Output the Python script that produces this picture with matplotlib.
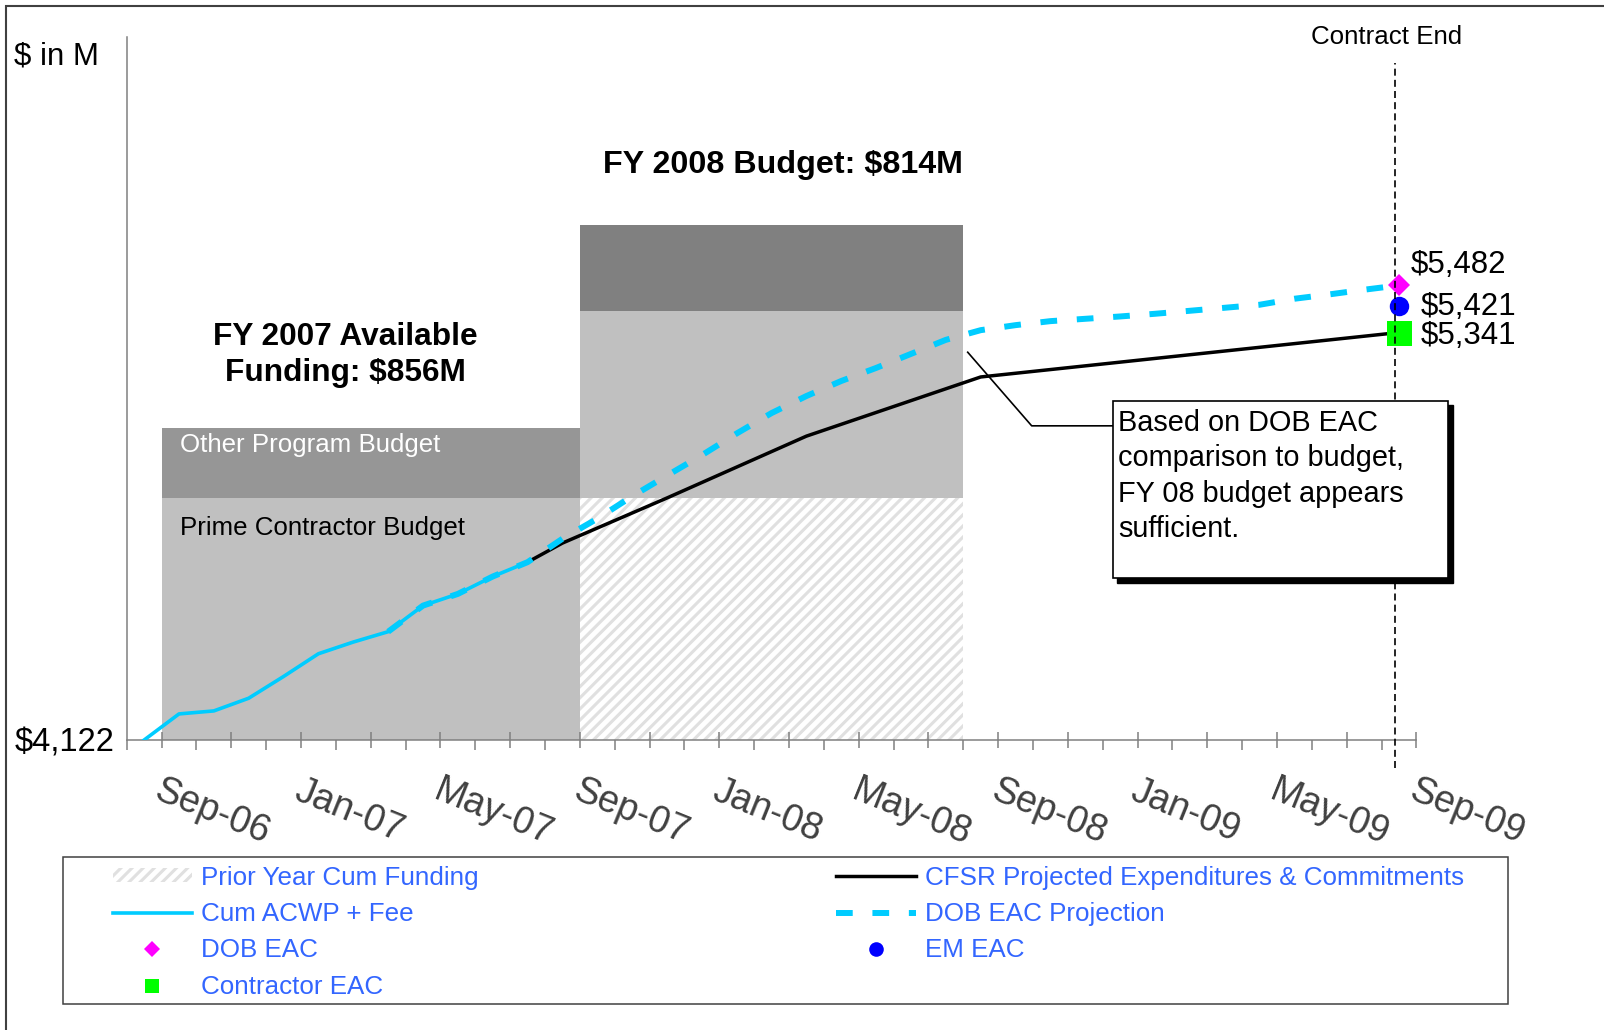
import matplotlib
matplotlib.use("Agg")
import matplotlib.pyplot as plt
import matplotlib.transforms as mtransforms
from matplotlib.lines import Line2D
from matplotlib.patches import Rectangle

W, H = 1604, 1030

# budget blocks (month 0 = Sep-06)
base = 4122
fy_first_month = [1, 13]
fy_length = [12, 11]
prior_year_cum = [0, 723]
prime_budget = [723, 560]
other_budget = [209, 257]
other_colors = ["#969696", "#808080"]

n_months = 37
month_labels = ["Sep-06", "Jan-07", "May-07", "Sep-07", "Jan-08",
                "May-08", "Sep-08", "Jan-09", "May-09", "Sep-09"]
label_months = [0, 4, 8, 12, 16, 20, 24, 28, 32, 36]

acwp_months = list(range(0, 12))
acwp = [4122, 4200, 4209, 4247, 4312, 4380, 4415, 4446, 4524, 4559, 4611, 4654]

cfsr_months = [11, 12, 15, 19, 24, 36]
cfsr = [4654, 4711, 4846, 5031, 5208, 5341]

dob_months = list(range(7, 37))
dob = [4446, 4524, 4559, 4611, 4654, 4724, 4784, 4851, 4913, 4974,
       5039, 5100, 5151, 5196, 5235, 5277, 5319, 5348, 5363, 5375,
       5382, 5389, 5397, 5406, 5415, 5424, 5442, 5455, 5469, 5482]

eac_month = 36
dob_eac = 5482
em_eac = 5421
contractor_eac = 5341
contract_end_month = 35.9

plt.rcParams["font.family"] = ["Liberation Sans", "DejaVu Sans"]
plt.rcParams["hatch.linewidth"] = 2.2


def fig_xy(x, y):
    # pixel position in the 1604x1030 picture -> figure fraction
    return x / W, 1 - y / H


fig = plt.figure(figsize=(W / 100, H / 100), dpi=100)
ax = fig.add_axes([126.7 / W, 290 / H, 1289.7 / W, 703 / H])

lefts = [m - 0.5 for m in fy_first_month]
prime_bottom = [base + p for p in prior_year_cum]
other_bottom = [b + p for b, p in zip(prime_bottom, prime_budget)]

hatch_bars = ax.bar(lefts, prior_year_cum, width=fy_length, bottom=base, align="edge",
                    color="white", edgecolor="#e0e0e0", hatch="///", linewidth=0,
                    label="Prior Year Cum Funding", zorder=1)
ax.bar(lefts, prime_budget, width=fy_length, bottom=prime_bottom, align="edge",
       color="#c0c0c0", linewidth=0, zorder=1)
ax.bar(lefts, other_budget, width=fy_length, bottom=other_bottom, align="edge",
       color=other_colors, linewidth=0, zorder=1)

cfsr_line, = ax.plot(cfsr_months, cfsr, color="black", lw=2.5, zorder=3,
                     label="CFSR Projected Expenditures & Commitments")
dob_line, = ax.plot(dob_months, dob, color="#00ccff", lw=4.3, ls=(0, (2.8, 3.3)),
                    zorder=4, label="DOB EAC Projection")
acwp_line, = ax.plot(acwp_months, acwp, color="#00ccff", lw=2.6, zorder=5,
                     label="Cum ACWP + Fee")

ax.plot([eac_month], [dob_eac], "D", color="#ff00ff", ms=11, mew=0, zorder=6,
        clip_on=False)
ax.plot([eac_month], [em_eac], "o", color="#0000ff", ms=14, mew=0, zorder=6,
        clip_on=False)
ax.plot([eac_month], [contractor_eac], "s", color="#00ff00", ms=18, mew=0, zorder=6,
        clip_on=False)

ax.axvline(contract_end_month, ymin=-0.04, ymax=0.963, color="black", lw=1.2,
           ls=(0, (4.2, 2.5)), clip_on=False, zorder=7)

ax.set_xlim(-0.5, n_months - 0.5)
ax.set_ylim(base, 6225)

for side in ["top", "right"]:
    ax.spines[side].set_visible(False)
for side in ["left", "bottom"]:
    ax.spines[side].set_color("#808080")
    ax.spines[side].set_linewidth(1.1)

ax.set_xticks([b - 0.5 for b in range(0, n_months + 1, 2)])
ax.set_xticks([b - 0.5 for b in range(1, n_months + 1, 2)], minor=True)
ax.tick_params(axis="x", which="major", direction="out", length=7, width=1.1,
               color="#808080", labelbottom=False)
ax.tick_params(axis="x", which="minor", direction="inout", length=11, width=1.1,
               color="#808080", labelbottom=False)
ax.set_yticks([base])
ax.set_yticklabels([f"${base:,}"])
ax.tick_params(axis="y", length=0, pad=9.0, labelsize=23.5, labelcolor="black")

offset = mtransforms.ScaledTranslation(19 / 100, -33 / 100, fig.dpi_scale_trans)
for m, lab in zip(label_months, month_labels):
    ax.text(m, 0, lab, transform=ax.get_xaxis_transform() + offset, rotation=-22,
            rotation_mode="anchor", ha="left", va="top", fontsize=27, color="#404040")

# value labels for the EAC markers
for (x, y), v in zip([(1411, 272.7), (1421, 315), (1421, 344)],
                     [dob_eac, em_eac, contractor_eac]):
    fig.text(*fig_xy(x, y), f"${v:,}", fontsize=22.5, va="baseline", ha="left")

fig.text(*fig_xy(14, 64.3), "$ in M", fontsize=22.5, va="baseline")
fig.text(*fig_xy(1386.7, 44.3), "Contract End", fontsize=18.6, ha="center", va="baseline")
fig.text(*fig_xy(782.6, 173.3), "FY 2008 Budget: $814M", fontsize=23.2,
         fontweight="bold", ha="center", va="baseline")
# multi-line texts: va="baseline" sits on the last line
fig.text(*fig_xy(345.8, 380.5), "FY 2007 Available\nFunding: $856M", fontsize=22.8,
         fontweight="bold", ha="center", va="baseline", linespacing=1.22,
         multialignment="center")
fig.text(*fig_xy(180, 452.3), "Other Program Budget", fontsize=18.6, color="white",
         va="baseline")
fig.text(*fig_xy(180, 535), "Prime Contractor Budget", fontsize=18.6, color="black",
         va="baseline")

# callout box with shadow and leader line
ax.add_patch(Rectangle((0.7645 + 4.3 / 1289.7, 0.2300 - 4.3 / 703), 0.2602, 0.2522,
                       transform=ax.transAxes, color="black", clip_on=False, zorder=8))
ax.add_patch(Rectangle((0.7645, 0.2300), 0.2602, 0.2522, transform=ax.transAxes,
                       facecolor="white", edgecolor="black", lw=1.2, clip_on=False,
                       zorder=9))
ax.plot([0.6521, 0.7017, 0.7645], [0.5516, 0.4469, 0.4469], color="black", lw=1.2,
        transform=ax.transAxes, clip_on=False, zorder=8)
fig.text(*fig_xy(1118, 537),
         "Based on DOB EAC\ncomparison to budget,\nFY 08 budget appears\nsufficient.",
         fontsize=20.8, va="baseline", ha="left", linespacing=1.33, zorder=10)

# legend marker swatches are drawn smaller than the chart markers
dob_key = Line2D([], [], ls="none", marker="D", color="#ff00ff", ms=8, mew=0,
                 label="DOB EAC")
em_key = Line2D([], [], ls="none", marker="o", color="#0000ff", ms=10.5, mew=0,
                label="EM EAC")
con_key = Line2D([], [], ls="none", marker="s", color="#00ff00", ms=9.5, mew=0,
                 label="Contractor EAC")

legend_kw = dict(loc="upper left", frameon=False, fontsize=18.7, labelcolor="#3366ff",
                 handlelength=3.07, handleheight=0.47, handletextpad=0.35,
                 labelspacing=0.48, borderpad=0, borderaxespad=0)
fig.legend(handles=[hatch_bars, acwp_line, dob_key, con_key],
           bbox_to_anchor=fig_xy(112.5, 865.5), **legend_kw)
fig.legend(handles=[cfsr_line, dob_line, em_key],
           bbox_to_anchor=fig_xy(835.8, 865.5), **legend_kw)

fig.add_artist(Rectangle(fig_xy(63.4, 1003.6), (1508 - 63.4) / W, 146.3 / H,
                         transform=fig.transFigure, fill=False, edgecolor="#404040",
                         lw=1.1))
fig.add_artist(Rectangle((6 / W, -0.05), 1.1, 1.05 - 6 / H, transform=fig.transFigure,
                         fill=False, edgecolor="#404040", lw=1.5))

fig.savefig("out.png", dpi=100)
